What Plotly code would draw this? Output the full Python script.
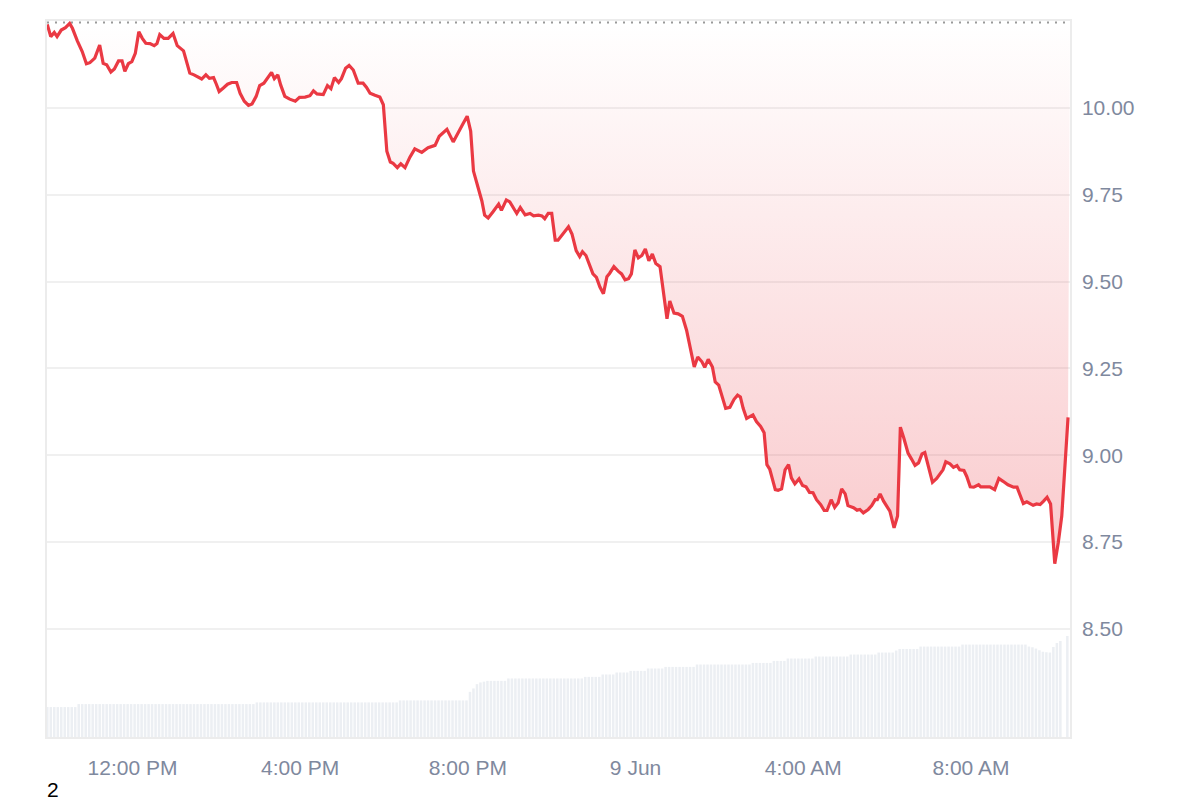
import plotly.graph_objects as go
import pandas as pd

# ---- price data ----
jun8_times = ["09:58","10:03","10:08","10:12","10:18","10:24","10:30","10:34","10:41","10:48",
              "10:54","10:59","11:06","11:13","11:18","11:23","11:29","11:34","11:40","11:45",
              "11:49","11:54","11:59","12:04","12:09","12:14","12:19","12:25","12:31","12:35",
              "12:39","12:45","12:51","12:58","13:04","13:13","13:22","13:28","13:39","13:45",
              "13:50","13:56","14:00","14:04","14:10","14:16","14:22","14:29","14:34","14:40",
              "14:46","14:51","14:57","15:02","15:08","15:14","15:19","15:23","15:28","15:32",
              "15:38","15:45","15:53","15:59","16:07","16:14","16:19","16:24","16:33","16:39",
              "16:44","16:49","16:55","16:59","17:05","17:10","17:16","17:23","17:30","17:35",
              "17:40","17:47","17:54","17:59","18:01","18:04","18:09","18:13","18:19","18:24",
              "18:30","18:37","18:44","18:54","19:03","19:13","19:19","19:30","19:39","19:49",
              "19:53","19:59","20:04","20:08","20:13","20:20","20:24","20:29","20:36","20:44",
              "20:48","20:55","21:00","21:10","21:15","21:22","21:29","21:34","21:41","21:46",
              "21:50","21:55","22:00","22:05","22:09","22:17","22:24","22:29","22:35","22:40",
              "22:44","22:49","22:54","22:59","23:04","23:09","23:14","23:19","23:23","23:29",
              "23:35","23:40","23:45","23:50","23:54","23:59"]
jun8_prices = [10.240,10.205,10.217,10.205,10.224,10.231,10.243,10.229,10.193,10.162,
               10.127,10.130,10.143,10.181,10.128,10.124,10.103,10.112,10.135,10.135,
               10.105,10.127,10.133,10.157,10.219,10.200,10.186,10.185,10.179,10.185,
               10.211,10.200,10.200,10.214,10.179,10.164,10.100,10.095,10.083,10.095,
               10.085,10.087,10.068,10.047,10.057,10.068,10.073,10.073,10.042,10.019,
               10.007,10.011,10.033,10.064,10.071,10.087,10.102,10.084,10.095,10.066,
               10.033,10.025,10.019,10.030,10.031,10.035,10.049,10.040,10.038,10.064,
               10.055,10.087,10.073,10.084,10.114,10.122,10.109,10.071,10.071,10.059,
               10.042,10.036,10.031,10.009,9.942,9.875,9.844,9.840,9.828,9.839,
               9.828,9.858,9.882,9.872,9.885,9.892,9.918,9.938,9.902,9.942,
               9.954,9.976,9.933,9.818,9.785,9.732,9.691,9.683,9.701,9.723,
               9.705,9.735,9.729,9.696,9.713,9.692,9.696,9.689,9.691,9.689,
               9.681,9.696,9.696,9.619,9.619,9.641,9.658,9.637,9.589,9.572,
               9.586,9.575,9.546,9.522,9.512,9.484,9.465,9.514,9.524,9.543,
               9.530,9.522,9.505,9.508,9.522,9.591]
jun9_times = ["00:04","00:09","00:14","00:19","00:24","00:29","00:35","00:40","00:45","00:49",
              "00:55","01:01","01:07","01:13","01:18","01:24","01:29","01:35","01:39","01:44",
              "01:50","01:54","01:59","02:05","02:09","02:15","02:21","02:26","02:30","02:34",
              "02:39","02:48","02:53","02:59","03:04","03:08","03:12","03:20","03:24","03:29",
              "03:34","03:39","03:43","03:48","03:54","03:59","04:04","04:09","04:14","04:19",
              "04:25","04:30","04:34","04:40","04:45","04:50","04:55","05:00","05:04","05:12",
              "05:17","05:21","05:26","05:33","05:38","05:43","05:46","05:50","05:55","06:04",
              "06:10","06:15","06:19","06:24","06:30","06:35","06:40","06:45","06:50","06:54",
              "06:59","07:05","07:11","07:20","07:24","07:30","07:35","07:40","07:44","07:50",
              "07:54","07:59","08:04","08:11","08:14","08:27","08:34","08:40","08:46","08:53",
              "09:01","09:06","09:10","09:15","09:20","09:29","09:34","09:39","09:44","09:49",
              "09:54","10:00","10:05","10:10","10:19"]
jun9_prices = [9.568,9.575,9.594,9.560,9.579,9.552,9.543,9.465,9.393,9.444,
               9.409,9.407,9.400,9.360,9.312,9.254,9.283,9.269,9.253,9.276,
               9.254,9.211,9.202,9.164,9.135,9.138,9.161,9.173,9.168,9.135,
               9.106,9.116,9.097,9.083,9.065,8.973,8.960,8.901,8.899,8.903,
               8.958,8.973,8.935,8.918,8.932,8.913,8.909,8.893,8.892,8.872,
               8.858,8.841,8.841,8.872,8.850,8.863,8.903,8.889,8.855,8.849,
               8.842,8.844,8.834,8.844,8.855,8.872,8.872,8.889,8.868,8.839,
               8.791,8.825,9.081,9.049,9.006,8.989,8.971,8.978,9.004,9.008,
               8.968,8.922,8.933,8.958,8.981,8.975,8.965,8.970,8.958,8.956,
               8.939,8.909,8.908,8.915,8.909,8.909,8.901,8.933,8.925,8.915,
               8.908,8.908,8.887,8.861,8.866,8.856,8.860,8.858,8.868,8.879,
               8.860,8.688,8.748,8.825,9.109]

open_price = 10.246

# ---- volume (millions), 5-minute bars, as (value, number of bars) runs ----
volume_start = "2024-06-08 09:58"
volume_runs = [(3.00, 9), (3.30, 51), (3.47, 41), (3.67, 20), (4.53, 1), (4.87, 1), (5.30, 1),
               (5.47, 1), (5.55, 1), (5.63, 6), (5.87, 22), (6.03, 5), (6.27, 4), (6.47, 4),
               (6.63, 5), (6.87, 5), (7.03, 9), (7.27, 16), (7.43, 6), (7.63, 4), (7.87, 8),
               (8.07, 10), (8.27, 8), (8.47, 5), (8.67, 1), (8.83, 6), (9.07, 12), (9.27, 19),
               (9.07, 1), (9.00, 1), (8.87, 1), (8.70, 1), (8.55, 1), (8.50, 1), (8.47, 1),
               (9.03, 1), (9.43, 1), (9.63, 1), (0.0, 1), (10.13, 1)]

# ---- axis labels ----
x_tick_vals = ["2024-06-08 12:00", "2024-06-08 16:00", "2024-06-08 20:00",
               "2024-06-09 00:00", "2024-06-09 04:00", "2024-06-09 08:00"]
x_tick_text = ["12:00 PM", "4:00 PM", "8:00 PM", "9 Jun", "4:00 AM", "8:00 AM"]
y_tick_vals = [8.50, 8.75, 9.00, 9.25, 9.50, 9.75, 10.00]
y_tick_text = [f"{v:.2f}" for v in y_tick_vals]

x_range = ["2024-06-08 09:57:36", "2024-06-09 10:21:48"]

price_times = ["2024-06-08 " + t for t in jun8_times] + ["2024-06-09 " + t for t in jun9_times]
prices = jun8_prices + jun9_prices
volumes = [v for v, n in volume_runs for _ in range(n)]
volume_times = pd.date_range(volume_start, periods=len(volumes), freq="5min")

RED = "#ea3943"
LABEL = "#7f899e"
FONT = "Liberation Sans, Arial, sans-serif"

fig = go.Figure()

fig.add_trace(go.Bar(
    x=volume_times, y=volumes, yaxis="y2",
    marker=dict(color="#eceff3", line=dict(width=0)),
    hoverinfo="skip", showlegend=False,
))

fig.add_trace(go.Scatter(
    x=x_range, y=[open_price, open_price], mode="lines",
    line=dict(color="#999999", width=2, dash="2px,6px"),
    hoverinfo="skip", showlegend=False,
))

fig.add_trace(go.Scatter(
    x=price_times, y=prices, mode="lines",
    line=dict(color=RED, width=3.2),
    fill="tonexty",
    fillgradient=dict(
        type="vertical",
        colorscale=[[0, "rgba(234,57,67,0.27)"], [1, "rgba(234,57,67,0.0)"]],
        start=min(prices), stop=open_price,
    ),
    showlegend=False,
))

# The page adds an 8px body margin, so the figure is 1192x792 and its margins are shifted by 8px.
fig.update_layout(
    width=1192, height=792,
    margin=dict(l=39, r=130, t=11, b=63),
    paper_bgcolor="white", plot_bgcolor="white",
    font=dict(family=FONT, size=21, color=LABEL),
    bargap=0.28,
    xaxis=dict(
        type="date", range=x_range,
        tickvals=x_tick_vals, ticktext=x_tick_text,
        showgrid=False, zeroline=False,
        showline=True, mirror=True, linecolor="#ececec", linewidth=1.5,
        ticks="outside", ticklen=11, tickcolor="rgba(0,0,0,0)",
        tickfont=dict(size=21, color=LABEL),
    ),
    yaxis=dict(
        side="right", range=[8.189, 10.25],
        tickvals=y_tick_vals, ticktext=y_tick_text,
        showgrid=True, gridcolor="#f0f0f0", gridwidth=1.5, zeroline=False,
        showline=True, mirror=True, linecolor="#ececec", linewidth=1.5,
        ticks="outside", ticklen=6, tickcolor="rgba(0,0,0,0)",
        tickfont=dict(size=21, color=LABEL),
    ),
    yaxis2=dict(overlaying="y", range=[0, 71.8], visible=False),
    annotations=[dict(
        text="2", xref="paper", yref="paper", x=0.0059, y=-0.0738,
        xanchor="center", yanchor="middle", showarrow=False,
        font=dict(family=FONT, size=21, color="black"),
    )],
)

fig.write_html("out.html")
